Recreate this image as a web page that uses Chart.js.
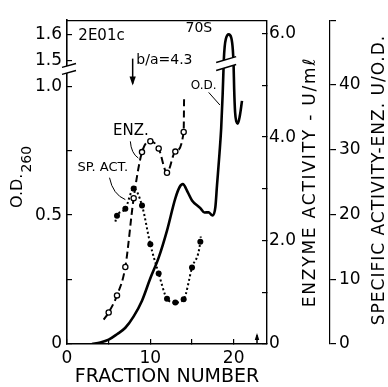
<!DOCTYPE html>
<html>
<head>
<meta charset="utf-8">
<script src="https://cdn.jsdelivr.net/npm/chart.js@4.4.1/dist/chart.umd.min.js"></script>
<style>
  html, body { margin: 0; padding: 0; background: #fff; }
</style>
</head>
<body>
<canvas id="c" width="388" height="387"></canvas>
<script>
// O.D.260 profile (solid line), fraction number -> absorbance
const odFraction = [3, 4, 5, 6, 7, 8, 9, 10, 11, 12, 13, 13.5, 13.9, 14.5, 15, 16, 16.5, 17, 17.3, 17.5, 17.8, 18.0, 18.3, 18.5,
                    18.68, 18.76, 18.82, 18.92, 19.06, 19.4, 19.72, 19.9, 19.99, 20.06, 20.17, 20.32, 20.5, 20.74, 21.0];
const odValues = [0.0, 0.006, 0.017, 0.038, 0.063, 0.107, 0.168, 0.255, 0.335, 0.44, 0.565, 0.608, 0.62, 0.588, 0.557, 0.527, 0.51, 0.511, 0.502, 0.499, 0.53, 0.615, 0.74, 0.836,
                  0.97, 1.23, 1.503, 1.553, 1.583, 1.601, 1.587, 1.541, 1.42, 0.989, 0.90, 0.863, 0.855, 0.885, 0.943];

// enzyme activity, U/ml (open circles, dashed)
const enzFraction = [5, 6, 7, 8, 9, 10, 11, 12, 13, 14];
const enzValues = [0.61, 0.94, 1.49, 2.82, 3.71, 3.92, 3.78, 3.31, 3.72, 4.10];
const enzLineStart = [4.4, 0.47];
const enzLineEnd = [14.05, 4.76];

// specific activity, enz. U/O.D. (filled circles, dotted)
const spFraction = [6, 7, 8, 9, 10, 11, 12, 13, 14, 15, 16];
const spValues = [19.8, 20.9, 24.0, 21.4, 15.4, 10.9, 7.0, 6.4, 6.9, 11.8, 15.8];
const spLineStart = [5.8, 18.9];
const spLineEnd = [16.05, 16.6];

// ticks
const xTicks = [0, 5, 10, 15, 20];
const xTickLabels = ['0', '', '10', '', '20'];
const odTicks = [0, 0.25, 0.5, 0.75, 1.0, 1.5, 1.6];
const odTickLabels = ['0', '', '0.5', '', '1.0', '1.5', '1.6'];
const enzTicks = [0, 1, 2, 3, 4, 5, 6];
const enzTickLabels = ['0', '', '2.0', '', '4.0', '', '6.0'];
const spTicks = [0, 10, 20, 30, 40, 50];
const spTickLabels = ['0', '10', '20', '30', '40', ''];

// broken O.D. axis: 1.0..1.5 squeezed into 0.1
function odToAxis(v) {
    if (v <= 1) return v;
    if (v < 1.5) return 1 + (v - 1) * 0.2;
    return v - 0.4;
}

const FONT = 'DejaVu Sans';
const tickFont = { family: FONT, size: 17 };

function withEnds(start, xs, ys, end) {
    const pts = xs.map((f, i) => ({ x: f, y: ys[i] }));
    return [{ x: start[0], y: start[1] }, ...pts, { x: end[0], y: end[1] }];
}

const extras = {
    id: 'extras',
    afterDraw(chart) {
        const { ctx, chartArea: area } = chart;
        const { x, yOD } = chart.scales;
        const X = v => x.getPixelForValue(v);
        const Y = d => yOD.getPixelForValue(d);

        ctx.save();
        ctx.strokeStyle = '#000';
        ctx.fillStyle = '#000';

        // top frame
        ctx.lineWidth = 1.2;
        ctx.beginPath();
        ctx.moveTo(area.left, area.top + 0.5);
        ctx.lineTo(area.right, area.top + 0.5);
        ctx.stroke();

        const breakMark = (x1, x2, a1, a2, b1, b2) => {
            ctx.fillStyle = '#fff';
            ctx.beginPath();
            ctx.moveTo(x1, a1); ctx.lineTo(x2, a2); ctx.lineTo(x2, b2); ctx.lineTo(x1, b1);
            ctx.closePath();
            ctx.fill();
            ctx.lineWidth = 1.4;
            ctx.beginPath();
            ctx.moveTo(x1, a1); ctx.lineTo(x2, a2);
            ctx.moveTo(x1, b1); ctx.lineTo(x2, b2);
            ctx.stroke();
            ctx.fillStyle = '#000';
        };
        // break on axis and on the 70S peak
        breakMark(area.left - 5, area.left + 9, Y(1.073), Y(1.088), Y(1.046), Y(1.061));
        breakMark(X(17.9), X(20.3), Y(1.092), Y(1.115), Y(1.061), Y(1.084));

        // arrows
        const arrow = (xp, yFrom, yTo, head) => {
            ctx.lineWidth = 1.5;
            ctx.beginPath();
            ctx.moveTo(xp, yFrom); ctx.lineTo(xp, yTo);
            ctx.stroke();
            const dir = Math.sign(yTo - yFrom);
            ctx.beginPath();
            ctx.moveTo(xp, yTo + dir * 2);
            ctx.lineTo(xp - head * 0.45, yTo - dir * head);
            ctx.lineTo(xp + head * 0.45, yTo - dir * head);
            ctx.closePath();
            ctx.fill();
        };
        arrow(X(7.88), Y(1.107), Y(1.01), 7);
        arrow(X(22.8), Y(0.004), Y(0.035), 5);

        // labels inside the plot
        const label = (txt, xp, yp, size, align) => {
            ctx.font = size + 'px "' + FONT + '"';
            ctx.textAlign = align;
            ctx.textBaseline = 'middle';
            ctx.fillText(txt, xp, yp);
        };
        label('2E01c', X(1.36), Y(1.195), 15, 'left');
        label('70S', X(15.82), Y(1.225), 14, 'center');
        label('b/a=4.3', X(8.32), Y(1.099), 14, 'left');
        label('O.D.', X(16.4), Y(1.0), 12, 'center');
        label('ENZ.', X(7.66), Y(0.824), 15, 'center');
        label('SP. ACT.', X(4.3), Y(0.683), 13, 'center');

        // leader lines
        ctx.lineWidth = 1;
        ctx.beginPath();
        ctx.moveTo(X(17.0), Y(0.976));
        ctx.lineTo(X(18.35), Y(0.927));
        ctx.stroke();
        ctx.beginPath();
        ctx.moveTo(X(7.6), Y(0.786));
        ctx.quadraticCurveTo(X(7.7), Y(0.74), X(8.56), Y(0.721));
        ctx.stroke();
        ctx.beginPath();
        ctx.moveTo(X(5.1), Y(0.645));
        ctx.quadraticCurveTo(X(5.5), Y(0.58), X(7.0), Y(0.56));
        ctx.stroke();

        // rotated axis titles
        const rotText = (txt, cx, cy, size, spacing) => {
            ctx.save();
            ctx.translate(cx, cy);
            ctx.rotate(-Math.PI / 2);
            ctx.font = size + 'px "' + FONT + '"';
            ctx.letterSpacing = spacing + 'px';
            ctx.textAlign = 'center';
            ctx.textBaseline = 'middle';
            ctx.fillText(txt, 0, 0);
            ctx.restore();
        };
        rotText('ENZYME ACTIVITY - U/m\u2113', 311, 182, 17, 1.8);
        rotText('SPECIFIC ACTIVITY-ENZ. U/O.D.', 380, 180, 17, 1);

        // O.D.260 with subscript
        ctx.save();
        ctx.translate(18, 208);
        ctx.rotate(-Math.PI / 2);
        ctx.textAlign = 'left';
        ctx.textBaseline = 'middle';
        ctx.font = '16px "' + FONT + '"';
        ctx.fillText('O.D.', 0, 0);
        const w = ctx.measureText('O.D.').width;
        ctx.font = '14px "' + FONT + '"';
        ctx.fillText('260', w + 1, 9);
        ctx.restore();

        ctx.restore();
    }
};

new Chart(document.getElementById('c'), {
    type: 'line',
    data: {
        datasets: [
            {
                label: 'O.D.',
                data: odFraction.map((f, i) => ({ x: f, y: odToAxis(odValues[i]) })),
                yAxisID: 'yOD',
                borderColor: '#000',
                borderWidth: 2.6,
                pointRadius: 0,
                cubicInterpolationMode: 'monotone',
                fill: false
            },
            {
                label: 'ENZ.',
                data: withEnds(enzLineStart, enzFraction, enzValues, enzLineEnd),
                yAxisID: 'yEnz',
                borderColor: '#000',
                borderWidth: 2,
                borderDash: [7, 4],
                cubicInterpolationMode: 'monotone',
                pointRadius: c => (c.dataIndex === 0 || c.dataIndex === enzFraction.length + 1) ? 0 : 2.6,
                pointBackgroundColor: '#fff',
                pointBorderColor: '#000',
                pointBorderWidth: 1.3,
                fill: false
            },
            {
                label: 'SP. ACT.',
                data: withEnds(spLineStart, spFraction, spValues, spLineEnd),
                yAxisID: 'ySpec',
                borderColor: '#000',
                borderWidth: 2,
                borderDash: [2, 2.5],
                cubicInterpolationMode: 'monotone',
                pointRadius: c => (c.dataIndex === 0 || c.dataIndex === spFraction.length + 1) ? 0 : 3,
                pointBackgroundColor: '#000',
                pointBorderColor: '#000',
                pointBorderWidth: 0,
                fill: false
            }
        ]
    },
    options: {
        responsive: false,
        animation: false,
        layout: { padding: { top: 15, left: 0, right: 0, bottom: 0 } },
        plugins: {
            legend: { display: false },
            tooltip: { enabled: false }
        },
        scales: {
            x: {
                type: 'linear',
                position: 'bottom',
                min: 0,
                max: 24,
                afterBuildTicks: s => { s.ticks = xTicks.map(v => ({ value: v })); },
                afterFit: s => { s.height = 43; },
                ticks: {
                    autoSkip: false,
                    maxRotation: 0,
                    padding: 9,
                    color: '#000',
                    font: tickFont,
                    callback: (v, i) => xTickLabels[i]
                },
                grid: { drawOnChartArea: false, tickLength: -5, color: '#000', lineWidth: 1.2 },
                border: { color: '#000', width: 1.6 },
                title: {
                    display: true,
                    text: 'FRACTION NUMBER',
                    color: '#000',
                    padding: 0,
                    font: { family: FONT, size: 19, lineHeight: 1 }
                }
            },
            yOD: {
                type: 'linear',
                position: 'left',
                min: 0,
                max: 1.256,
                afterBuildTicks: s => { s.ticks = odTicks.map(v => ({ value: odToAxis(v) })); },
                afterFit: s => { s.width = 67; },
                ticks: {
                    autoSkip: false,
                    padding: 10,
                    color: '#000',
                    font: tickFont,
                    callback: (v, i) => odTickLabels[i]
                },
                grid: { drawOnChartArea: false, tickLength: -5, color: '#000', lineWidth: 1.2 },
                border: { color: '#000', width: 1.6 }
            },
            yEnz: {
                type: 'linear',
                position: 'right',
                weight: 1,
                min: 0,
                max: 6.26,
                afterBuildTicks: s => { s.ticks = enzTicks.map(v => ({ value: v })); },
                afterFit: s => { s.width = 63; },
                ticks: {
                    autoSkip: false,
                    padding: 7,
                    color: '#000',
                    font: tickFont,
                    callback: (v, i) => enzTickLabels[i]
                },
                grid: { drawOnChartArea: false, tickLength: -5, color: '#000', lineWidth: 1.2 },
                border: { color: '#000', width: 1.4 }
            },
            ySpec: {
                type: 'linear',
                position: 'right',
                weight: 2,
                min: 0,
                max: 50,
                afterBuildTicks: s => { s.ticks = spTicks.map(v => ({ value: v })); },
                afterFit: s => { s.width = 58; },
                ticks: {
                    autoSkip: false,
                    padding: 3,
                    color: '#000',
                    font: tickFont,
                    callback: (v, i) => spTickLabels[i]
                },
                grid: { drawOnChartArea: false, tickLength: 6, color: '#000', lineWidth: 1.2 },
                border: { color: '#000', width: 1.2 }
            }
        }
    },
    plugins: [extras]
});
</script>
</body>
</html>
